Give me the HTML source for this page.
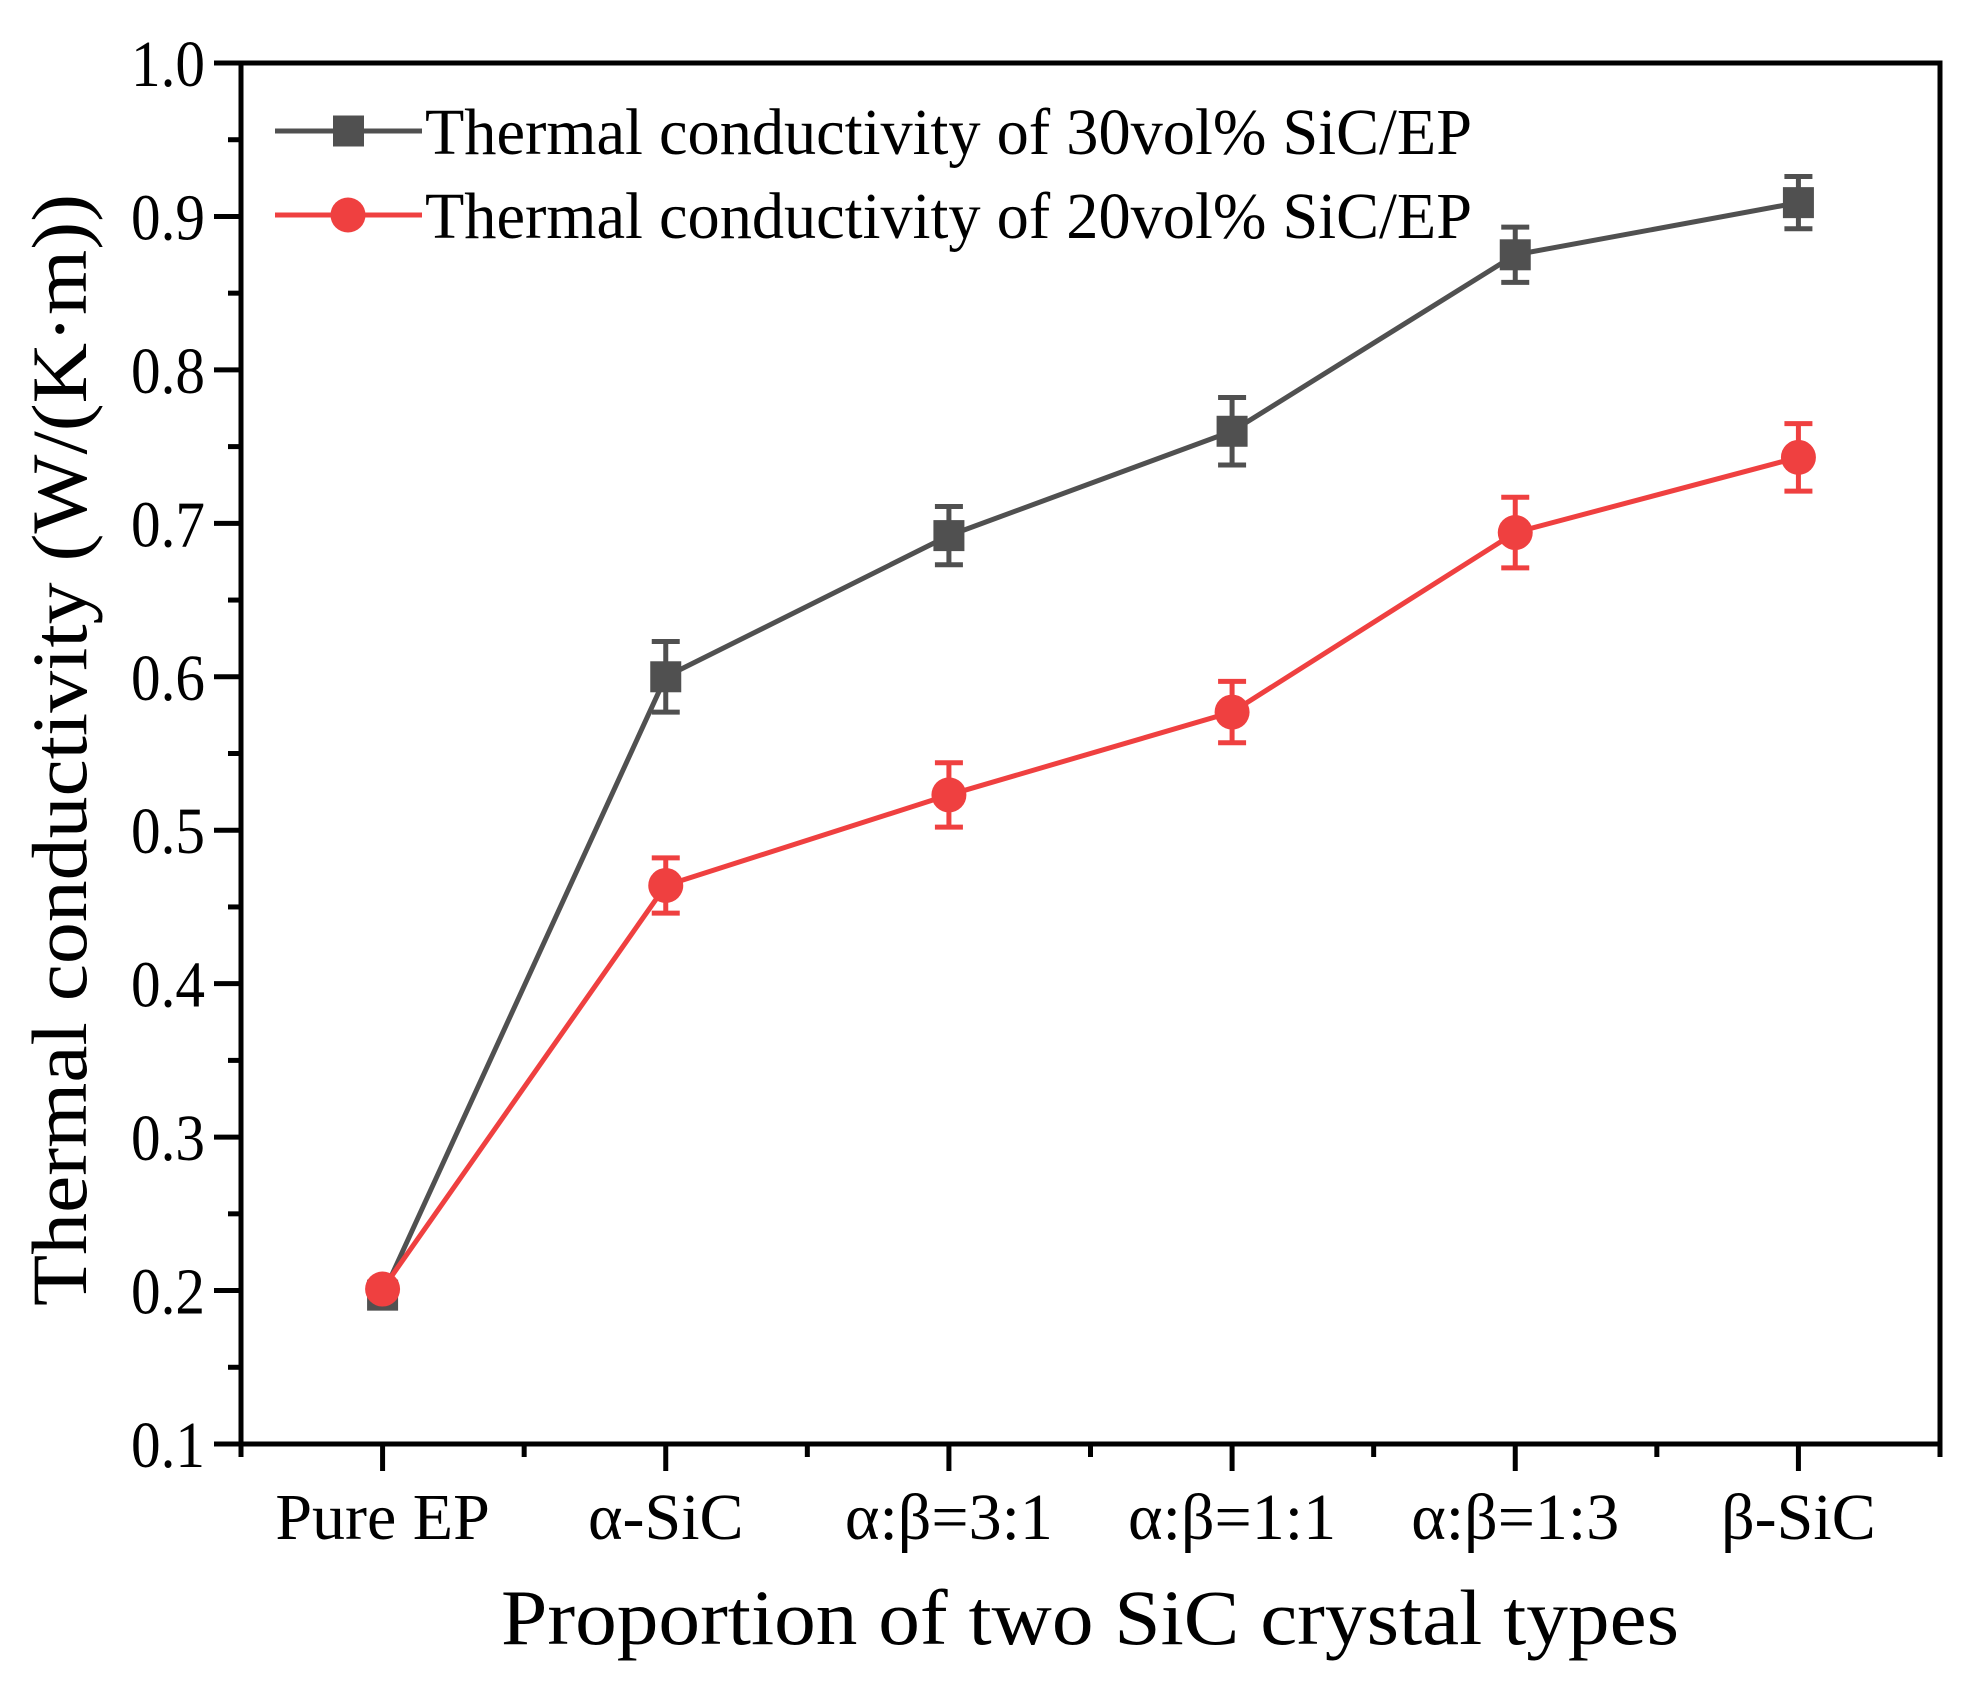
<!DOCTYPE html>
<html><head><meta charset="utf-8"><style>
html,body{margin:0;padding:0;background:#fff;}
svg{display:block;font-family:"Liberation Serif",serif;}
</style></head><body>
<svg id="chart" width="1975" height="1684" viewBox="0 0 1975 1684">
<g id="axes"></g>
<g id="series"></g>
<g id="legend"></g>
<text x="1090" y="1644" text-anchor="middle" font-size="78" textLength="1178" lengthAdjust="spacingAndGlyphs">Proportion of two SiC crystal types</text>
<text transform="translate(86,750) rotate(-90)" text-anchor="middle" font-size="78" textLength="1112" lengthAdjust="spacingAndGlyphs">Thermal conductivity (W/(K·m))</text>
</svg>
<script>
const categories = ["Pure EP","α-SiC","α:β=3:1","α:β=1:1","α:β=1:3","β-SiC"];
const series30 = [0.197,0.600,0.692,0.760,0.875,0.909];
const err30 = [0.006,0.023,0.019,0.022,0.018,0.017];
const series20 = [0.201,0.464,0.523,0.577,0.694,0.743];
const err20 = [0.005,0.018,0.021,0.020,0.023,0.022];
const yTicks = [0.1,0.2,0.3,0.4,0.5,0.6,0.7,0.8,0.9,1.0];
const yTickLabels = ["0.1","0.2","0.3","0.4","0.5","0.6","0.7","0.8","0.9","1.0"];
const legendLabels = ["Thermal conductivity of 30vol% SiC/EP","Thermal conductivity of 20vol% SiC/EP"];

const NS="http://www.w3.org/2000/svg";
const L=241,R=1940,T=63,B=1444;
const yMin=0.1,yMax=1.0;
const xs=i=>L+(R-L)/categories.length*(i+0.5);
const ys=v=>B-(v-yMin)/(yMax-yMin)*(B-T);
function mk(tag,attrs,parent){const e=document.createElementNS(NS,tag);for(const k in attrs)e.setAttribute(k,attrs[k]);parent.appendChild(e);return e;}
const axes=document.getElementById('axes');
let e=mk('rect',{x:L,y:T,width:R-L,height:B-T,fill:'none',stroke:'#000','stroke-width':5},axes);


yTicks.forEach((v,i)=>{
  const y=ys(v);
  let t=mk('line',{x1:L-27,x2:L,y1:y,y2:y,stroke:'#000','stroke-width':5},axes);
  
  
  if(i<yTicks.length-1){
    const ym=ys(v+0.05);
    let m=mk('line',{x1:L-13,x2:L,y1:ym,y2:ym,stroke:'#000','stroke-width':5},axes);
    
    
  }
  let tx=mk('text',{x:L-36,y:y+23,'text-anchor':'end','font-size':66,textLength:74,lengthAdjust:'spacingAndGlyphs'},axes);
  tx.textContent=yTickLabels[i];
  
  
});
const step=(R-L)/categories.length;
for(let k=0;k<=categories.length;k++){
  const x=L+step*k;
  let m=mk('line',{x1:x,x2:x,y1:B,y2:B+13,stroke:'#000','stroke-width':5},axes);
  
  
}
const xLabelWidths=[207,150,205,205,205,150];
categories.forEach((c,i)=>{
  const x=xs(i);
  let t=mk('line',{x1:x,x2:x,y1:B,y2:B+27,stroke:'#000','stroke-width':5},axes);
  
  
  let tx=mk('text',{x:x,y:1539,'text-anchor':'middle','font-size':66},axes);
  tx.textContent=c;
  
  
});
const sg=document.getElementById('series');
function drawSeries(vals,errs,color,shape,name){
  const g=mk('g',{},sg);
  
  
  const pts=vals.map((v,i)=>xs(i)+','+ys(v)).join(' ');
  let pl=mk('polyline',{points:pts,fill:'none',stroke:color,'stroke-width':5},g);
  
  
  vals.forEach((v,i)=>{
    const x=xs(i),y1=ys(v+errs[i]),y2=ys(v-errs[i]);
    const eg=mk('g',{stroke:color,'stroke-width':5},g);
    
    
    mk('line',{x1:x,x2:x,y1:y1,y2:y2},eg);
    mk('line',{x1:x-14,x2:x+14,y1:y1,y2:y1},eg);
    mk('line',{x1:x-14,x2:x+14,y1:y2,y2:y2},eg);
    let p;
    if(shape==='square') p=mk('rect',{x:x-15.5,y:ys(v)-15.5,width:31,height:31,fill:color},g);
    else p=mk('circle',{cx:x,cy:ys(v),r:17.5,fill:color},g);
    
    
  });
}
drawSeries(series30,err30,'#505050','square','series-30vol');
drawSeries(series20,err20,'#ef4040','circle','series-20vol');
const lg=document.getElementById('legend');
[['#505050','square',131],['#ef4040','circle',215]].forEach((d,i)=>{
  const g=mk('g',{},lg);
  
  
  mk('line',{x1:275,x2:422,y1:d[2],y2:d[2],stroke:d[0],'stroke-width':5},g);
  if(d[1]==='square') mk('rect',{x:333,y:d[2]-15.5,width:31,height:31,fill:d[0]},g);
  else mk('circle',{cx:348,cy:d[2],r:17.5,fill:d[0]},g);
  let t=mk('text',{x:425,y:d[2]+23,'font-size':66,textLength:1047,lengthAdjust:'spacingAndGlyphs'},g);
  t.textContent=legendLabels[i];
  
  
});
</script>
</body></html>
